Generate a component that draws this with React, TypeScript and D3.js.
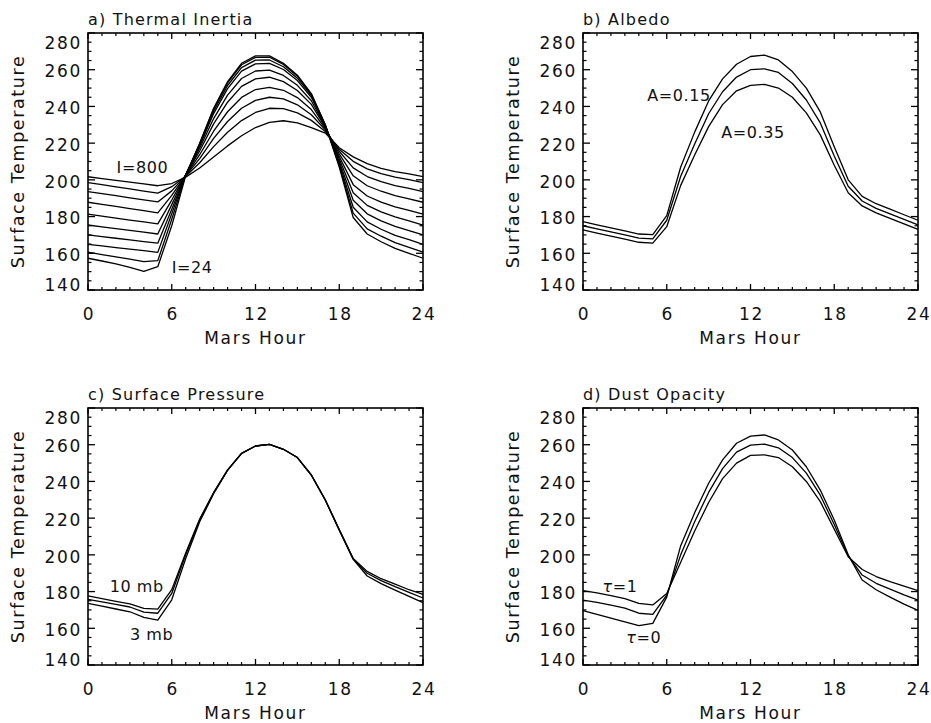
import React from 'react';
import * as d3 from 'd3';

// ---------- data ----------
const hours = [0, 1, 2, 3, 4, 5, 6, 7, 8, 9, 10, 11, 12, 13, 14, 15, 16, 17, 18, 19, 20, 21, 22, 23, 24];
const xTickValues = [0, 6, 12, 18, 24];
const yTickValues = [140, 160, 180, 200, 220, 240, 260, 280];

// a) Thermal inertia (I=800 ... I=24)
const ti800 = [201.7, 200.7, 199.7, 198.8, 197.8, 196.8, 198, 201.5, 206.5, 212.5, 218.5, 224, 228.5, 231.3, 232.2, 231, 228.5, 225.5, 217.5, 212.5, 208.8, 206.3, 204.5, 203.2, 201.7];
const tiB = [198.5, 197.4, 196.2, 195.1, 193.9, 192.8, 196.3, 202, 209.3, 218.1, 225.9, 232.3, 236.7, 239, 238.8, 236.5, 232.4, 226.4, 216.7, 210.1, 206, 203.4, 201.5, 200.1, 198.5];
const tiC = [193.6, 192.5, 191.4, 190.2, 189.1, 188, 194, 202.3, 211.6, 222.6, 231.8, 239, 243.3, 245, 244.1, 240.9, 235.5, 227.2, 215.6, 206.5, 201.8, 199, 196.9, 195.3, 193.6];
const tiD = [187.8, 186.6, 185.5, 184.3, 183.2, 182, 191.5, 202.5, 213.7, 226.5, 237.1, 244.9, 249.2, 250.4, 248.8, 244.8, 238.3, 227.9, 214.2, 202.2, 196.8, 193.8, 191.4, 189.7, 187.8];
const tiE = [181.3, 180.2, 179.2, 178.1, 177.1, 176, 189, 202.7, 215.7, 230.5, 242.3, 250.9, 255, 255.9, 253.5, 248.7, 241.1, 228.6, 212.7, 197.4, 191.2, 187.9, 185.3, 183.4, 181.3];
const tiF = [175.4, 174.4, 173.4, 172.5, 171.5, 170.5, 186.5, 202.8, 217.2, 233.4, 246.2, 255.2, 259.3, 259.8, 256.9, 251.5, 243.1, 229.1, 211.3, 193, 186.1, 182.6, 179.8, 177.6, 175.4];
const tiG = [170, 169.1, 168.2, 167.3, 166.4, 165.5, 184, 202.8, 218.5, 236.1, 249.7, 259.2, 263.2, 263.5, 260.1, 254.1, 245, 229.5, 210, 188.9, 181.5, 177.7, 174.7, 172.4, 170];
const tiH = [164.9, 164, 163.1, 162.3, 161.4, 160.5, 181.5, 202.8, 219.2, 237.4, 251.4, 261.1, 265.2, 265.3, 261.6, 255.4, 245.9, 229.7, 208.8, 185.1, 177.1, 173.1, 169.8, 167.4, 164.9];
const tiJ = [160.6, 159.3, 158, 156.8, 155.5, 156, 178.5, 202.6, 219.7, 238.5, 252.8, 262.7, 266.7, 266.8, 262.9, 256.5, 246.6, 229.9, 207.8, 181.9, 173.3, 169.3, 165.8, 163.2, 160.6];
const ti24 = [157.3, 155.8, 154.2, 152.3, 150.2, 152.7, 175, 202.3, 220, 239, 253.5, 263.5, 267.5, 267.5, 263.5, 257, 247, 230, 207, 179.5, 170.5, 166.3, 162.7, 160, 157.3];

// b) Albedo
const albedo015 = [177.2, 175.5, 173.9, 172.2, 170.5, 170.2, 180.5, 207, 226, 243, 255, 263, 267.2, 268, 265.3, 259, 250, 237, 218, 200, 191, 187, 184, 181, 178];
const albedo025 = [175, 173.3, 171.7, 170, 168.3, 167.8, 178, 202, 219.5, 236, 248, 256, 260, 260.5, 258.5, 252.5, 243.5, 231, 213, 196.5, 188.5, 184.5, 181.5, 178.5, 175.5];
const albedo035 = [172.7, 171, 169.4, 167.7, 166, 165.5, 174.5, 197, 213.5, 229, 241, 248.5, 251.5, 252, 250, 245, 236.5, 224.5, 208, 193, 185.8, 182, 179, 176, 173];

// c) Surface pressure
const press10 = [177.6, 176.2, 174.7, 173.3, 170.8, 170.4, 181, 201, 219.5, 234, 246.3, 255.3, 259.3, 260.2, 257.5, 253, 243.5, 230, 213.8, 198, 191, 187, 184, 181, 178.5];
const press6 = [175.8, 174.4, 173, 171.6, 168.8, 168.2, 179, 200, 219, 233.7, 246.2, 255.3, 259.3, 260.2, 257.5, 253, 243.5, 229.9, 213.6, 197.8, 190, 186, 182.7, 179.6, 176.5];
const press3 = [173.6, 172.1, 170.5, 169, 166, 164.5, 175.5, 198, 218, 233.3, 246, 255.2, 259.3, 260.2, 257.5, 253, 243.4, 229.8, 213.4, 197.5, 188.5, 184.3, 180.8, 177.4, 174];

// d) Dust opacity
const tau1 = [180.5, 179.3, 177.8, 176.2, 173.6, 172.7, 179, 196, 213, 228.5, 241.5, 250, 254.2, 254.5, 253, 248, 240, 229, 214, 199, 192, 188.2, 185.4, 183, 180.5];
const tauHalf = [175.4, 174.1, 172.6, 171, 168.2, 167.6, 178, 200, 218, 234, 247, 256, 259.8, 260.3, 258.3, 253, 244.5, 232.5, 216.5, 199.5, 189, 184.5, 181.3, 178.2, 175.4];
const tau0 = [169.6, 167.6, 165.6, 163.5, 161.4, 162.7, 177, 205, 223, 239, 251.7, 260.8, 264.7, 265.3, 262.6, 257.1, 248, 235.3, 219, 200, 186.3, 181, 177, 173.2, 169.8];

// ---------- layout ----------
const FONT = "'DejaVu Sans', sans-serif";
const PW = 335;
const PH = 257;

type Label = { text: React.ReactNode; hour: number; temp: number };
type PanelSpec = { left: number; top: number; title: string; curves: number[][]; labels: Label[] };

const panels: PanelSpec[] = [
  {
    left: 88, top: 33, title: 'a) Thermal Inertia',
    curves: [ti800, tiB, tiC, tiD, tiE, tiF, tiG, tiH, tiJ, ti24],
    labels: [
      { text: 'I=800', hour: 2.05, temp: 203.7 },
      { text: 'I=24', hour: 6.0, temp: 149.3 },
    ],
  },
  {
    left: 583, top: 33, title: 'b) Albedo',
    curves: [albedo015, albedo025, albedo035],
    labels: [
      { text: 'A=0.15', hour: 4.6, temp: 243 },
      { text: 'A=0.35', hour: 9.9, temp: 222.8 },
    ],
  },
  {
    left: 88, top: 408, title: 'c) Surface Pressure',
    curves: [press10, press6, press3],
    labels: [
      { text: '10 mb', hour: 1.55, temp: 179.8 },
      { text: '3 mb', hour: 3.0, temp: 153.6 },
    ],
  },
  {
    left: 583, top: 408, title: 'd) Dust Opacity',
    curves: [tau1, tauHalf, tau0],
    labels: [
      { text: <><tspan fontStyle="italic">τ</tspan>=1</>, hour: 1.4, temp: 179.8 },
      { text: <><tspan fontStyle="italic">τ</tspan>=0</>, hour: 3.1, temp: 152 },
    ],
  },
];

function Panel({ spec }: { spec: PanelSpec }) {
  const { left, top, title, curves, labels } = spec;
  const x = d3.scaleLinear().domain([0, 24]).range([left, left + PW]);
  const y = d3.scaleLinear().domain([140, 280]).range([top + PH, top]);
  const line = d3
    .line<number>()
    .x((_, i) => x(hours[i]))
    .y((d) => y(d));

  const xMinor = d3.range(0, 25, 1).filter((v) => v % 6 !== 0);
  const yMinor = d3.range(140, 281, 5).filter((v) => v % 20 !== 0);
  const bottom = top + PH;
  const right = left + PW;

  const yLabelShift = (v: number) => (v === 280 ? 10 : v === 140 ? -5.5 : 1.5);

  return (
    <g>
      <text x={left} y={top - 8} fontSize={16} letterSpacing={1.2} fontFamily={FONT} fill="#111">
        {title}
      </text>
      {curves.map((c, i) => (
        <path key={i} d={line(c) || ''} fill="none" stroke="#000" strokeWidth={1.3} strokeLinejoin="round" />
      ))}
      {/* ticks */}
      {xTickValues.map((v) => (
        <g key={'xm' + v}>
          <line x1={x(v)} x2={x(v)} y1={bottom} y2={bottom - 6} stroke="#000" strokeWidth={1.3} />
          <line x1={x(v)} x2={x(v)} y1={top} y2={top + 6} stroke="#000" strokeWidth={1.3} />
        </g>
      ))}
      {xMinor.map((v) => (
        <g key={'xn' + v}>
          <line x1={x(v)} x2={x(v)} y1={bottom} y2={bottom - 3} stroke="#000" strokeWidth={1.2} />
          <line x1={x(v)} x2={x(v)} y1={top} y2={top + 3} stroke="#000" strokeWidth={1.2} />
        </g>
      ))}
      {yTickValues.map((v) => (
        <g key={'ym' + v}>
          <line x1={left} x2={left + 7} y1={y(v)} y2={y(v)} stroke="#000" strokeWidth={1.3} />
          <line x1={right} x2={right - 7} y1={y(v)} y2={y(v)} stroke="#000" strokeWidth={1.3} />
        </g>
      ))}
      {yMinor.map((v) => (
        <g key={'yn' + v}>
          <line x1={left} x2={left + 3.5} y1={y(v)} y2={y(v)} stroke="#000" strokeWidth={1.2} />
          <line x1={right} x2={right - 3.5} y1={y(v)} y2={y(v)} stroke="#000" strokeWidth={1.2} />
        </g>
      ))}
      <rect x={left} y={top} width={PW} height={PH} fill="none" stroke="#000" strokeWidth={1.6} />
      {/* tick labels */}
      {xTickValues.map((v) => (
        <text key={'xl' + v} x={x(v) + 1} y={bottom + 30} textAnchor="middle" fontSize={17} letterSpacing={1.7} fontFamily={FONT} fill="#111">
          {v}
        </text>
      ))}
      {yTickValues.map((v) => (
        <text key={'yl' + v} x={left - 6} y={y(v) + yLabelShift(v) + 6.2} textAnchor="end" fontSize={17} letterSpacing={1.7} fontFamily={FONT} fill="#111">
          {v}
        </text>
      ))}
      <text x={(left + right) / 2} y={bottom + 53.5} textAnchor="middle" fontSize={17} letterSpacing={1.7} fontFamily={FONT} fill="#111">
        Mars Hour
      </text>
      <text
        transform={`translate(${left - 64},${(top + bottom) / 2}) rotate(-90)`}
        textAnchor="middle"
        fontSize={17.5}
        letterSpacing={1.6}
        fontFamily={FONT}
        fill="#111"
      >
        Surface Temperature
      </text>
      {labels.map((l, i) => (
        <text key={'lab' + i} x={x(l.hour)} y={y(l.temp)} fontSize={16} letterSpacing={0.6} fontFamily={FONT} fill="#111">
          {l.text}
        </text>
      ))}
    </g>
  );
}

export default function App() {
  return (
    <svg
      width={931}
      height={723}
      viewBox="0 0 931 723"
      style={{ position: 'absolute', left: 0, top: 0, background: '#fff' }}
    >
      <rect x={0} y={0} width={931} height={723} fill="#fff" />
      {panels.map((p, i) => (
        <Panel key={i} spec={p} />
      ))}
    </svg>
  );
}
